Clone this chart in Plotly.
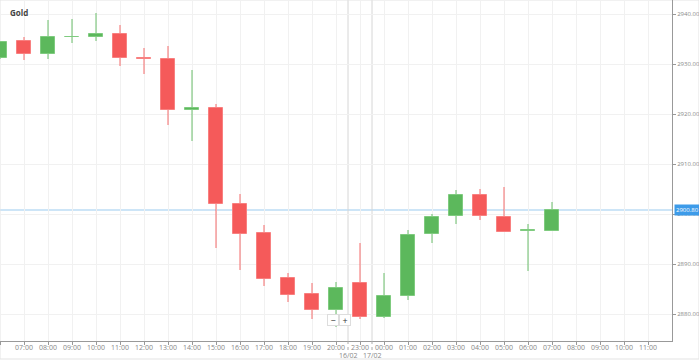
import plotly.graph_objects as go

# ---- data ----
hour_labels = ["06:00", "07:00", "08:00", "09:00", "10:00", "11:00", "12:00", "13:00",
               "14:00", "15:00", "16:00", "17:00", "18:00", "19:00", "20:00", "23:00",
               "00:00", "01:00", "02:00", "03:00", "04:00", "05:00", "06:00", "07:00",
               "08:00", "09:00", "10:00", "11:00"]
open_ = [2931.2, 2934.6, 2932.1, 2935.4, 2935.5, 2936.1, 2931.3, 2931.1, 2920.8, 2921.3,
         2902.1, 2896.3, 2887.3, 2884.1, 2880.8, 2886.3, 2879.5, 2883.7, 2896.0, 2899.6,
         2903.8, 2899.5, 2896.6, 2896.7]
close = [2934.4, 2932.1, 2935.5, 2935.5, 2936.1, 2931.3, 2931.0, 2920.8, 2921.2, 2902.1,
         2896.1, 2887.1, 2883.9, 2880.8, 2885.3, 2879.5, 2883.7, 2895.8, 2899.5, 2903.9,
         2899.6, 2896.5, 2896.8, 2900.8]
high = [2934.6, 2935.5, 2938.8, 2939.0, 2940.3, 2937.9, 2933.3, 2933.6, 2928.8, 2922.0,
        2904.1, 2897.8, 2888.3, 2886.3, 2886.5, 2894.3, 2888.3, 2896.8, 2900.1, 2904.9,
        2905.1, 2905.5, 2898.1, 2902.5]
low = [2931.0, 2930.8, 2931.1, 2934.3, 2934.7, 2929.7, 2928.1, 2917.8, 2914.7, 2893.3,
       2888.8, 2885.7, 2882.5, 2879.1, 2877.4, 2879.1, 2879.3, 2882.8, 2894.3, 2898.1,
       2898.8, 2896.5, 2888.6, 2896.7]
day_breaks = [("16/02", 14.5), ("17/02", 15.5)]
y_ticks = [2880, 2890, 2900, 2910, 2920, 2930, 2940]
title = "Gold"

UP = "#5cb85c"
DOWN = "#f55a5a"
UP_W = "rgba(92,184,92,0.45)"
DOWN_W = "rgba(245,90,90,0.45)"
UP_B = "#7fcb7f"
DOWN_B = "#f88080"

idx = list(range(len(open_)))
is_up = [c >= o for o, c in zip(open_, close)]

fig = go.Figure()
# wicks
fig.add_trace(go.Bar(
    x=idx, y=[h - l for h, l in zip(high, low)], base=low, width=0.045,
    marker=dict(color=[UP_W if u else DOWN_W for u in is_up], line=dict(width=0)),
    hoverinfo="skip", showlegend=False))
# bodies
fig.add_trace(go.Bar(
    x=idx, y=[abs(c - o) for o, c in zip(open_, close)],
    base=[min(o, c) for o, c in zip(open_, close)], width=0.62,
    marker=dict(color=[UP if u else DOWN for u in is_up],
                line=dict(width=1, color=[UP_B if u else DOWN_B for u in is_up])),
    showlegend=False))

last = close[-1]
shapes = [
    dict(type="line", xref="paper", yref="y", x0=0, x1=1, y0=last, y1=last,
         line=dict(color="#bcdcf5", width=1.5), layer="below"),
]
annotations = [
    dict(text="<b>" + title + "</b>", xref="paper", yref="paper", x=0, y=1,
         xanchor="left", yanchor="top", xshift=8, yshift=-5, showarrow=False,
         font=dict(size=8, color="#444", family="Open Sans")),
    dict(text=f"{last:.2f}", xref="paper", yref="y", x=1, y=last, xanchor="left",
         xshift=2, showarrow=False, bgcolor="#3d9be9", borderpad=1,
         font=dict(size=6, color="white", family="Open Sans")),
    dict(text="−", x=14.0, y=0, xref="x", yref="paper", yanchor="bottom", yshift=15,
         xshift=-3, showarrow=False, bgcolor="white", bordercolor="#ddd", borderwidth=1,
         borderpad=0, width=10, height=10, font=dict(size=9, color="#333")),
    dict(text="+", x=14.0, y=0, xref="x", yref="paper", yanchor="bottom", yshift=15,
         xshift=9, showarrow=False, bgcolor="white", bordercolor="#ddd", borderwidth=1,
         borderpad=0, width=10, height=10, font=dict(size=9, color="#333")),
]
for lbl, pos in day_breaks:
    shapes.append(dict(type="line", xref="x", yref="paper", x0=pos, x1=pos, y0=0, y1=1,
                       line=dict(color="#d6d6d6", width=1), layer="below"))
    shapes.append(dict(type="line", xref="x", yref="paper", x0=pos, x1=pos, y0=0, y1=-0.03,
                       line=dict(color="#aaa", width=1, dash="dot")))
    annotations.append(dict(text=lbl, x=pos, y=0, xref="x", yref="paper", yanchor="top",
                            yshift=-8, showarrow=False,
                            font=dict(size=7, color="#888", family="Open Sans")))
shapes.append(dict(type="rect", xref="paper", yref="paper", x0=0, x1=1.0402, y0=-0.0528,
                   y1=1, line=dict(color="#e3e3e3", width=1), layer="below"))

fig.update_layout(
    width=699, height=360,
    margin=dict(l=0, r=27, t=0, b=19, autoexpand=False),
    paper_bgcolor="white", plot_bgcolor="white",
    barmode="overlay", bargap=0,
    shapes=shapes, annotations=annotations,
    font=dict(family="Open Sans", size=7, color="#888"),
    xaxis=dict(range=[0, 28], tickvals=list(range(len(hour_labels))), ticktext=hour_labels,
               showgrid=True, gridcolor="#f1f1f1", gridwidth=1, zeroline=False,
               showline=True, linecolor="#999", linewidth=1, ticks="outside", ticklen=3,
               tickcolor="#999", tickfont=dict(size=7, color="#888"), fixedrange=True,
               automargin=False, ticklabelstandoff=-3),
    yaxis=dict(range=[2874.6, 2942.8], side="right", tickvals=y_ticks, tickformat=".2f",
               showgrid=True, gridcolor="#f1f1f1", zeroline=False, showline=True,
               linecolor="#999", linewidth=1, ticks="outside", ticklen=3, tickcolor="#999",
               tickfont=dict(size=6, color="#888"), fixedrange=True, automargin=False),
)

fig.write_html("out.html", config={"displayModeBar": False},
               post_script="document.body.style.margin='0';")
